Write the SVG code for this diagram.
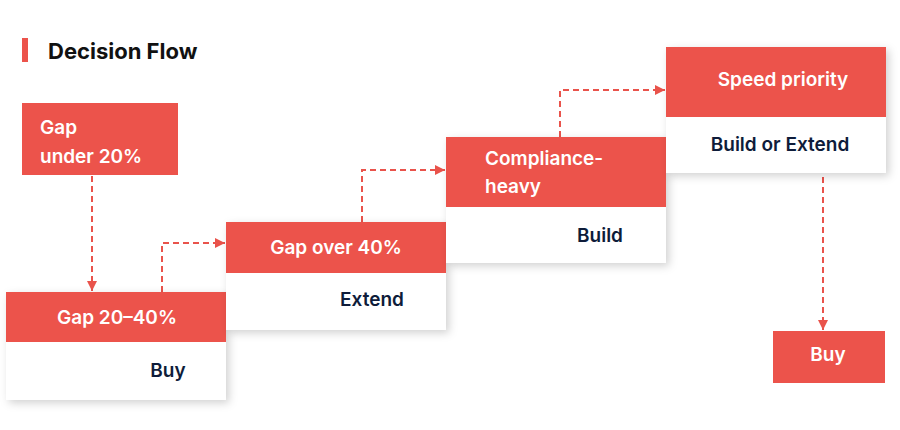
<svg xmlns="http://www.w3.org/2000/svg" width="900" height="430" viewBox="0 0 900 430">
<defs>
<filter id="sh" x="-20%" y="-20%" width="150%" height="150%"><feDropShadow dx="3" dy="3" stdDeviation="4" flood-color="#000" flood-opacity="0.18"/></filter>
<marker id="ah" viewBox="0 0 10 10" refX="10" refY="5" markerWidth="10" markerHeight="10" markerUnits="userSpaceOnUse" orient="auto"><path d="M0,0 L10,5 L0,10 z" fill="#e9534b"/></marker>
<style>
.r{fill:#ec534b}
.w{fill:#fff}
.t{font-family:Inter,"Noto Sans",sans-serif;font-weight:600;font-size:19px;fill:#fff}
.d{font-family:Inter,"Noto Sans",sans-serif;font-weight:600;font-size:19px;fill:#0e1c3a}
.c{fill:none;stroke:#e9534b;stroke-width:2;stroke-dasharray:6,4;marker-end:url(#ah)}
</style>
</defs>
<rect width="900" height="430" fill="#fff"/>
<g id="title"><rect x="22" y="38" width="6" height="24" fill="#ec534b"/><text x="48" y="59" style="font-family:Inter,'Noto Sans',sans-serif;font-weight:700;font-size:22px;fill:#111">Decision Flow</text></g>
<g id="connectors">
<path class="c" d="M92,176 V291"/>
<path class="c" d="M162,292 V243 H225"/>
<path class="c" d="M362,222 V170 H445"/>
<path class="c" d="M560,137 V90 H665"/>
<path class="c" d="M823,177 V330"/>
</g>
<g id="n1"><rect class="r" x="22" y="103" width="156" height="72"/><text class="t" x="40" y="134">Gap</text><text class="t" x="40" y="163">under 20%</text></g>
<g id="n2"><rect class="w" x="6" y="292" width="220" height="108" filter="url(#sh)"/><rect class="r" x="6" y="292" width="220" height="50"/><text class="t" x="117" y="324" text-anchor="middle">Gap 20–40%</text><text class="d" x="168" y="377" text-anchor="middle">Buy</text></g>
<g id="n3"><rect class="w" x="226" y="222" width="220" height="108" filter="url(#sh)"/><rect class="r" x="226" y="222" width="220" height="51"/><text class="t" x="336" y="254" text-anchor="middle">Gap over 40%</text><text class="d" x="372" y="306" text-anchor="middle">Extend</text></g>
<g id="n4"><rect class="w" x="446" y="137" width="220" height="126" filter="url(#sh)"/><rect class="r" x="446" y="137" width="220" height="70"/><text class="t" x="485" y="165">Compliance-</text><text class="t" x="485" y="193">heavy</text><text class="d" x="600" y="242" text-anchor="middle">Build</text></g>
<g id="n5"><rect class="w" x="666" y="47" width="220" height="126" filter="url(#sh)"/><rect class="r" x="666" y="47" width="220" height="70"/><text class="t" x="783" y="86" text-anchor="middle">Speed priority</text><text class="d" x="780" y="151" text-anchor="middle">Build or Extend</text></g>
<g id="n6"><rect class="r" x="773" y="331" width="112" height="52"/><text class="t" x="828" y="361" text-anchor="middle">Buy</text></g>
</svg>
